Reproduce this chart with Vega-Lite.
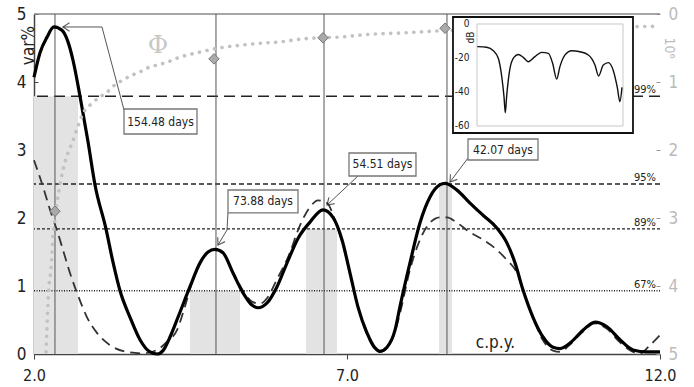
{
  "$schema": "https://vega.github.io/schema/vega-lite/v6.json",
  "width": 626,
  "height": 340,
  "autosize": "none",
  "padding": {"left": 34, "top": 14, "right": 34, "bottom": 33},
  "background": "white",
  "config": {"view": {"stroke": null}, "font": "DejaVu Sans Condensed, Roboto, sans-serif"},
  "datasets": {
    "solid": [{"x":2.0,"y":4.07},{"x":2.096,"y":4.43},{"x":2.208,"y":4.66},{"x":2.319,"y":4.81},{"x":2.447,"y":4.76},{"x":2.543,"y":4.59},{"x":2.623,"y":4.32},{"x":2.735,"y":3.79},{"x":2.863,"y":3.12},{"x":2.974,"y":2.49},{"x":3.15,"y":1.84},{"x":3.262,"y":1.35},{"x":3.374,"y":0.93},{"x":3.534,"y":0.54},{"x":3.693,"y":0.21},{"x":3.853,"y":0.03},{"x":3.965,"y":0.0},{"x":4.061,"y":0.05},{"x":4.173,"y":0.25},{"x":4.3,"y":0.54},{"x":4.492,"y":0.99},{"x":4.652,"y":1.34},{"x":4.78,"y":1.5},{"x":4.891,"y":1.54},{"x":5.019,"y":1.49},{"x":5.179,"y":1.19},{"x":5.339,"y":0.9},{"x":5.482,"y":0.72},{"x":5.578,"y":0.68},{"x":5.722,"y":0.75},{"x":5.882,"y":0.99},{"x":6.042,"y":1.34},{"x":6.217,"y":1.7},{"x":6.409,"y":1.94},{"x":6.617,"y":2.12},{"x":6.776,"y":2.01},{"x":6.92,"y":1.68},{"x":7.048,"y":1.19},{"x":7.176,"y":0.69},{"x":7.319,"y":0.31},{"x":7.447,"y":0.09},{"x":7.527,"y":0.04},{"x":7.639,"y":0.1},{"x":7.767,"y":0.35},{"x":7.847,"y":0.7},{"x":8.006,"y":1.34},{"x":8.166,"y":1.93},{"x":8.326,"y":2.31},{"x":8.486,"y":2.49},{"x":8.565,"y":2.51},{"x":8.757,"y":2.41},{"x":8.965,"y":2.22},{"x":9.173,"y":2.04},{"x":9.396,"y":1.85},{"x":9.556,"y":1.63},{"x":9.684,"y":1.34},{"x":9.812,"y":0.94},{"x":9.971,"y":0.54},{"x":10.131,"y":0.25},{"x":10.291,"y":0.1},{"x":10.403,"y":0.08},{"x":10.562,"y":0.16},{"x":10.77,"y":0.35},{"x":10.962,"y":0.47},{"x":11.153,"y":0.4},{"x":11.361,"y":0.21},{"x":11.569,"y":0.06},{"x":11.792,"y":0.03},{"x":12.0,"y":0.03}],
    "dashed": [{"x":2.0,"y":2.85},{"x":2.144,"y":2.46},{"x":2.256,"y":2.12},{"x":2.367,"y":1.82},{"x":2.463,"y":1.53},{"x":2.575,"y":1.19},{"x":2.687,"y":0.9},{"x":2.847,"y":0.54},{"x":3.006,"y":0.31},{"x":3.214,"y":0.13},{"x":3.486,"y":0.03},{"x":3.741,"y":0.01},{"x":3.965,"y":0.06},{"x":4.125,"y":0.18},{"x":4.284,"y":0.35},{"x":4.412,"y":0.7},{"x":4.524,"y":1.05},{"x":4.652,"y":1.34},{"x":4.78,"y":1.5},{"x":4.891,"y":1.54},{"x":5.019,"y":1.48},{"x":5.179,"y":1.2},{"x":5.339,"y":0.93},{"x":5.482,"y":0.77},{"x":5.61,"y":0.74},{"x":5.722,"y":0.82},{"x":5.882,"y":1.1},{"x":6.089,"y":1.49},{"x":6.217,"y":1.82},{"x":6.409,"y":2.16},{"x":6.537,"y":2.26},{"x":6.681,"y":2.22},{"x":6.808,"y":1.97},{"x":6.936,"y":1.6},{"x":7.048,"y":1.19},{"x":7.176,"y":0.69},{"x":7.319,"y":0.29},{"x":7.447,"y":0.07},{"x":7.527,"y":0.03},{"x":7.639,"y":0.09},{"x":7.767,"y":0.33},{"x":7.847,"y":0.6},{"x":8.006,"y":1.24},{"x":8.166,"y":1.68},{"x":8.326,"y":1.93},{"x":8.486,"y":2.01},{"x":8.597,"y":2.01},{"x":8.757,"y":1.93},{"x":8.965,"y":1.79},{"x":9.173,"y":1.68},{"x":9.396,"y":1.53},{"x":9.556,"y":1.38},{"x":9.716,"y":1.19},{"x":9.812,"y":0.94},{"x":9.971,"y":0.54},{"x":10.131,"y":0.2},{"x":10.291,"y":0.05},{"x":10.403,"y":0.03},{"x":10.562,"y":0.14},{"x":10.77,"y":0.33},{"x":10.962,"y":0.45},{"x":11.153,"y":0.37},{"x":11.361,"y":0.17},{"x":11.569,"y":0.03},{"x":11.681,"y":0.01},{"x":11.84,"y":0.13},{"x":12.0,"y":0.28}],
    "phi": [{"x":2.192,"phi":4.97},{"x":2.208,"phi":4.6},{"x":2.224,"phi":4.24},{"x":2.24,"phi":3.99},{"x":2.272,"phi":3.74},{"x":2.288,"phi":3.5},{"x":2.304,"phi":3.25},{"x":2.335,"phi":3.03},{"x":2.367,"phi":2.78},{"x":2.415,"phi":2.51},{"x":2.495,"phi":2.18},{"x":2.543,"phi":2.04},{"x":2.607,"phi":1.9},{"x":2.703,"phi":1.65},{"x":2.783,"phi":1.46},{"x":2.895,"phi":1.34},{"x":3.022,"phi":1.24},{"x":3.166,"phi":1.15},{"x":3.294,"phi":1.04},{"x":3.422,"phi":0.97},{"x":3.565,"phi":0.9},{"x":3.693,"phi":0.85},{"x":3.821,"phi":0.79},{"x":3.965,"phi":0.75},{"x":4.125,"phi":0.71},{"x":4.284,"phi":0.65},{"x":4.652,"phi":0.56},{"x":5.019,"phi":0.49},{"x":5.291,"phi":0.46},{"x":5.61,"phi":0.43},{"x":5.93,"phi":0.41},{"x":6.249,"phi":0.37},{"x":6.569,"phi":0.35},{"x":6.888,"phi":0.34},{"x":7.208,"phi":0.31},{"x":7.527,"phi":0.29},{"x":7.847,"phi":0.28},{"x":8.438,"phi":0.25},{"x":8.805,"phi":0.24},{"x":9.444,"phi":0.22},{"x":10.403,"phi":0.21},{"x":11.361,"phi":0.19},{"x":12.0,"phi":0.18}],
    "diamonds": [{"x":2.335,"phi":2.9},{"x":4.875,"phi":0.66},{"x":6.617,"phi":0.35},{"x":8.566,"phi":0.21}],
    "peaks": [{"x":2.335},{"x":4.907},{"x":6.633},{"x":8.597}],
    "bands": [{"x1":2.0,"x2":2.703,"top":3.79},{"x1":4.492,"x2":5.291,"top":0.93},{"x1":6.345,"x2":6.84,"top":1.84},{"x1":8.47,"x2":8.677,"top":2.5}],
    "levels": [{"level":"99%","y":3.79},{"level":"95%","y":2.5},{"level":"89%","y":1.84},{"level":"67%","y":0.93}],
    "boxes": [
      {"label":"154.48 days","x1":3.438,"x2":4.604,"y1":3.603,"y2":3.235,"tx":4.021,"ty":3.419},
      {"label":"73.88 days","x1":5.099,"x2":6.217,"y1":2.412,"y2":2.074,"tx":5.658,"ty":2.243},
      {"label":"54.51 days","x1":7.032,"x2":8.102,"y1":2.956,"y2":2.618,"tx":7.567,"ty":2.787},
      {"label":"42.07 days","x1":8.933,"x2":10.051,"y1":3.162,"y2":2.853,"tx":9.492,"ty":3.007}
    ],
    "leaders": [
      {"ann":"a","ord":1,"x":2.463,"y":4.809},{"ann":"a","ord":2,"x":3.086,"y":4.809},{"ann":"a","ord":3,"x":3.438,"y":3.588},
      {"ann":"b","ord":1,"x":5.099,"y":2.074},{"ann":"b","ord":2,"x":5.083,"y":1.824},{"ann":"b","ord":3,"x":4.939,"y":1.603},
      {"ann":"c","ord":1,"x":7.176,"y":2.618},{"ann":"c","ord":2,"x":6.681,"y":2.191},
      {"ann":"d","ord":1,"x":8.933,"y":2.882},{"ann":"d","ord":2,"x":8.645,"y":2.529}
    ],
    "arrows": [
      {"ann":"a","x":2.463,"y":4.809,"angle":0},
      {"ann":"b","x":4.939,"y":1.603,"angle":-59},
      {"ann":"c","x":6.681,"y":2.191,"angle":-43},
      {"ann":"d","x":8.645,"y":2.529,"angle":-53}
    ],
    "inset": [{"f":0.2,"db":-13.3},{"f":6.6,"db":-13.7},{"f":11.2,"db":-15.7},{"f":14.6,"db":-20.2},{"f":16.9,"db":-30.6},{"f":18.5,"db":-42.7},{"f":19.4,"db":-52.2},{"f":20.3,"db":-42.7},{"f":22.6,"db":-26.1},{"f":25.3,"db":-19.6},{"f":28.3,"db":-17.9},{"f":31.7,"db":-19.6},{"f":35.2,"db":-22.2},{"f":39.7,"db":-19.2},{"f":44.3,"db":-16.7},{"f":48.9,"db":-17.3},{"f":51.8,"db":-23.1},{"f":54.6,"db":-32.4},{"f":56.8,"db":-25.1},{"f":60.3,"db":-18.2},{"f":64.8,"db":-15.7},{"f":70.5,"db":-16.3},{"f":76.3,"db":-18.2},{"f":80.8,"db":-24.1},{"f":83.3,"db":-30.6},{"f":86.5,"db":-24.1},{"f":90.0,"db":-22.7},{"f":93.4,"db":-27.5},{"f":96.1,"db":-37.3},{"f":97.9,"db":-45.7},{"f":99.3,"db":-37.3}]
  },
  "layer": [
    {
      "layer": [
        {
          "data": {"name": "bands"},
          "mark": {"type": "rect", "fill": "#e3e3e3"},
          "encoding": {
            "x": {"field": "x1", "type": "quantitative", "scale": {"domain": [2, 12], "nice": false, "zero": false},
              "axis": {"values": [2, 7, 12], "format": ".1f", "title": "c.p.y.", "titleX": 461, "titleY": -7, "titleAlign": "center", "titleBaseline": "alphabetic", "titleFontSize": 17, "titleFontWeight": "normal", "titleColor": "#222", "labelFontSize": 16, "labelColor": "#222", "labelPadding": 8, "labelFlush": false, "tickSize": 5, "tickColor": "#444", "domainColor": "#444", "domainWidth": 1.5, "grid": false}},
            "x2": {"field": "x2"},
            "y": {"field": "top", "type": "quantitative", "scale": {"domain": [0, 5], "nice": false, "zero": false},
              "axis": {"values": [0, 1, 2, 3, 4, 5], "format": "d", "title": "var%", "titleX": -1, "titleY": 31, "titleAngle": 270, "titleAlign": "center", "titleBaseline": "alphabetic", "titleFontSize": 17, "titleFontWeight": "normal", "titleColor": "#222", "labelFontSize": 17, "labelColor": "#222", "tickSize": -4, "labelPadding": 12, "tickColor": "#444", "domainColor": "#444", "domainWidth": 1.5, "grid": false}},
            "y2": {"datum": 0}
          }
        },
        {
          "data": {"values": [{"top": 5}]},
          "mark": {"type": "rule", "stroke": "#888", "strokeWidth": 1.5},
          "encoding": {"y": {"field": "top", "type": "quantitative"}}
        },
        {
          "data": {"name": "levels"},
          "mark": {"type": "rule", "stroke": "#222", "strokeWidth": 1.4},
          "encoding": {
            "y": {"field": "y", "type": "quantitative"},
            "strokeDash": {"field": "level", "type": "nominal", "legend": null, "scale": {"domain": ["99%", "95%", "89%", "67%"], "range": [[11, 6], [5, 3], [3, 2], [1, 1.5]]}}
          }
        },
        {
          "data": {"name": "levels"},
          "mark": {"type": "text", "align": "right", "baseline": "alphabetic", "dx": -4, "dy": -3, "fontSize": 11, "fill": "#222"},
          "encoding": {
            "x": {"datum": 12, "type": "quantitative"},
            "y": {"field": "y", "type": "quantitative"},
            "text": {"field": "level"}
          }
        },
        {
          "data": {"name": "peaks"},
          "mark": {"type": "rule", "stroke": "#555", "strokeWidth": 1},
          "encoding": {"x": {"field": "x", "type": "quantitative"}}
        },
        {
          "data": {"name": "dashed"},
          "mark": {"type": "line", "stroke": "#333", "strokeWidth": 1.8, "strokeDash": [10, 6], "interpolate": "monotone"},
          "encoding": {
            "x": {"field": "x", "type": "quantitative"},
            "y": {"field": "y", "type": "quantitative"}
          }
        },
        {
          "data": {"name": "solid"},
          "mark": {"type": "line", "stroke": "#000", "strokeWidth": 3.2, "interpolate": "monotone"},
          "encoding": {
            "x": {"field": "x", "type": "quantitative"},
            "y": {"field": "y", "type": "quantitative"}
          }
        },
        {
          "data": {"name": "leaders"},
          "mark": {"type": "line", "stroke": "#555", "strokeWidth": 1},
          "encoding": {
            "x": {"field": "x", "type": "quantitative"},
            "y": {"field": "y", "type": "quantitative"},
            "detail": {"field": "ann"},
            "order": {"field": "ord"}
          }
        },
        {
          "data": {"name": "arrows"},
          "mark": {"type": "point", "shape": "M 1 -0.65 L 0 0 L 1 0.65", "filled": false, "stroke": "#222", "strokeWidth": 1.2, "size": 170},
          "encoding": {
            "x": {"field": "x", "type": "quantitative"},
            "y": {"field": "y", "type": "quantitative"},
            "angle": {"field": "angle", "type": "quantitative", "scale": null}
          }
        },
        {
          "data": {"name": "boxes"},
          "mark": {"type": "rect", "fill": "white", "stroke": "#777", "strokeWidth": 1.3},
          "encoding": {
            "x": {"field": "x1", "type": "quantitative"},
            "x2": {"field": "x2"},
            "y": {"field": "y1", "type": "quantitative"},
            "y2": {"field": "y2"}
          }
        },
        {
          "data": {"name": "boxes"},
          "mark": {"type": "text", "fontSize": 12, "fill": "#222", "baseline": "middle", "align": "center"},
          "encoding": {
            "x": {"field": "tx", "type": "quantitative"},
            "y": {"field": "ty", "type": "quantitative"},
            "text": {"field": "label"}
          }
        }
      ]
    },
    {
      "layer": [
        {
          "data": {"name": "phi"},
          "mark": {"type": "line", "stroke": "#c2c2c2", "strokeWidth": 3.6, "strokeDash": [0.1, 7.6], "strokeCap": "round", "interpolate": "monotone"},
          "encoding": {
            "x": {"field": "x", "type": "quantitative", "scale": {"domain": [2, 12], "nice": false, "zero": false}, "axis": null},
            "y": {"field": "phi", "type": "quantitative", "scale": {"domain": [0, 5], "nice": false, "zero": false, "reverse": true},
              "axis": {"orient": "right", "values": [0, 1, 2, 3, 4, 5], "format": "d", "title": null, "labelFontSize": 17, "labelColor": "#bbb", "tickSize": -4, "tickColor": "#999", "labelPadding": 12, "domain": false, "grid": false}}
          }
        },
        {
          "data": {"name": "diamonds"},
          "mark": {"type": "point", "shape": "diamond", "filled": true, "fill": "#aaa", "stroke": "#777", "strokeWidth": 1, "size": 110, "opacity": 1},
          "encoding": {
            "x": {"field": "x", "type": "quantitative", "axis": null},
            "y": {"field": "phi", "type": "quantitative"}
          }
        },
        {
          "data": {"values": [{"sym": "Φ", "x": 3.981, "phi": 0.456}]},
          "mark": {"type": "text", "font": "DejaVu Serif", "fontSize": 25, "fill": "#c8c8c8", "baseline": "middle", "align": "center"},
          "encoding": {
            "x": {"field": "x", "type": "quantitative", "axis": null},
            "y": {"field": "phi", "type": "quantitative"},
            "text": {"field": "sym"}
          }
        },
        {
          "data": {"values": [{"unit": "10⁶", "x": 12, "phi": 0.5}]},
          "mark": {"type": "text", "angle": 90, "align": "center", "baseline": "bottom", "dy": -2, "fontSize": 14, "fill": "#bbb"},
          "encoding": {
            "x": {"field": "x", "type": "quantitative", "axis": null},
            "y": {"field": "phi", "type": "quantitative"},
            "text": {"field": "unit"}
          }
        }
      ]
    },
    {
      "layer": [
        {
          "data": {"values": [{"f1": -16.44, "f2": 106.85, "d1": 4.118, "d2": -64.118}]},
          "mark": {"type": "rect", "fill": "white", "stroke": "#111", "strokeWidth": 1.8},
          "encoding": {
            "x": {"field": "f1", "type": "quantitative", "scale": {"domain": [-303.42, 125.35], "nice": false, "zero": false}, "axis": null},
            "x2": {"field": "f2"},
            "y": {"field": "d1", "type": "quantitative", "scale": {"domain": [-194.118, 5.882], "nice": false, "zero": false},
              "axis": {"orient": "left", "offset": -443, "zindex": 2, "values": [0, -20, -40, -60], "labelExpr": "'' + datum.value", "domain": false, "ticks": false, "grid": false, "labelPadding": 8, "labelFontSize": 10, "labelColor": "#222", "title": "dB", "titleX": -4, "titleY": 23, "titleAngle": 270, "titleAlign": "center", "titleBaseline": "alphabetic", "titleFontSize": 10, "titleFontWeight": "normal", "titleColor": "#222"}},
            "y2": {"field": "d2"}
          }
        },
        {
          "data": {"values": [{"f1": 0, "f2": 100, "d1": 0, "d2": -60}]},
          "mark": {"type": "rect", "fill": null, "stroke": "#c8c8c8", "strokeWidth": 1},
          "encoding": {
            "x": {"field": "f1", "type": "quantitative", "axis": null},
            "x2": {"field": "f2"},
            "y": {"field": "d1", "type": "quantitative"},
            "y2": {"field": "d2"}
          }
        },
        {
          "data": {"name": "inset"},
          "mark": {"type": "line", "stroke": "#111", "strokeWidth": 1.4, "interpolate": "monotone"},
          "encoding": {
            "x": {"field": "f", "type": "quantitative", "axis": null},
            "y": {"field": "db", "type": "quantitative"}
          }
        }
      ]
    }
  ],
  "resolve": {"scale": {"x": "independent", "y": "independent"}}
}
